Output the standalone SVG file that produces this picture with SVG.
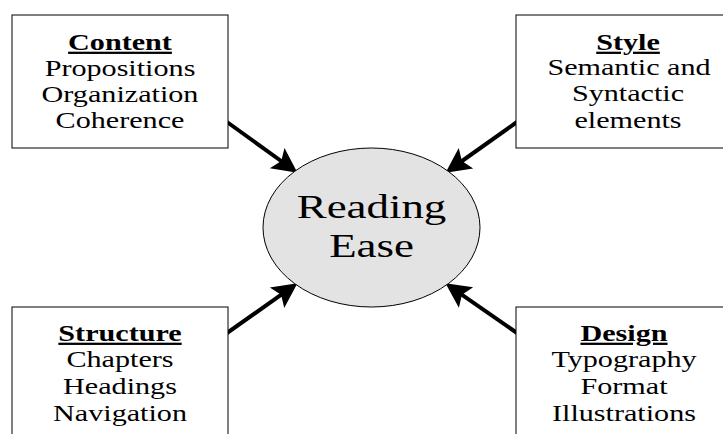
<svg xmlns="http://www.w3.org/2000/svg" width="723" height="434" viewBox="0 0 723 434">
<style>
.box{fill:#fff;stroke:#000;stroke-width:1}
.t{font-family:"Liberation Serif","Times New Roman",serif;font-size:22.5px;text-anchor:middle;fill:#000}
.h{font-weight:bold;text-decoration:underline}
.big{font-family:"Liberation Serif","Times New Roman",serif;font-size:33px;text-anchor:middle;fill:#000}
.arr{stroke:#000;stroke-width:4;fill:none;marker-end:url(#ah)}
</style>
<defs>
<marker id="ah" markerUnits="userSpaceOnUse" markerWidth="30" markerHeight="30" viewBox="-10 -12 24 24" refX="0" refY="0" orient="auto" overflow="visible">
<path d="M12,0 L-8,-10 L-4,0 L-8,10 Z" fill="#000"/>
</marker>
</defs>
<rect width="723" height="434" fill="#fff"/>
<g id="connectors">
<line class="arr" x1="227" y1="122" x2="285.3" y2="164"/>
<line class="arr" x1="517" y1="122" x2="457.8" y2="164"/>
<line class="arr" x1="227" y1="333" x2="285.2" y2="291.9"/>
<line class="arr" x1="517" y1="333" x2="457.8" y2="291.9"/>
</g>
<g id="content">
<rect class="box" x="12" y="15" width="216" height="133"/>
<text class="t h" transform="translate(120,50) scale(1.34,1)">Content</text>
<text class="t" transform="translate(120,76) scale(1.34,1)">Propositions</text>
<text class="t" transform="translate(120,102) scale(1.34,1)">Organization</text>
<text class="t" transform="translate(120,128) scale(1.34,1)">Coherence</text>
</g>
<g id="style">
<rect class="box" x="516" y="15" width="216" height="133"/>
<text class="t h" transform="translate(628,50) scale(1.34,1)">Style</text>
<text class="t" transform="translate(629,75) scale(1.34,1)">Semantic and</text>
<text class="t" transform="translate(628,101) scale(1.34,1)">Syntactic</text>
<text class="t" transform="translate(628,128) scale(1.34,1)">elements</text>
</g>
<g id="structure">
<rect class="box" x="12" y="307" width="216" height="140"/>
<text class="t h" transform="translate(120,341) scale(1.34,1)">Structure</text>
<text class="t" transform="translate(120,367) scale(1.34,1)">Chapters</text>
<text class="t" transform="translate(120,394) scale(1.34,1)">Headings</text>
<text class="t" transform="translate(120,421) scale(1.34,1)">Navigation</text>
</g>
<g id="design">
<rect class="box" x="516" y="307" width="216" height="140"/>
<text class="t h" transform="translate(624,341) scale(1.34,1)">Design</text>
<text class="t" transform="translate(624,367) scale(1.34,1)">Typography</text>
<text class="t" transform="translate(624,394) scale(1.34,1)">Format</text>
<text class="t" transform="translate(624,421) scale(1.34,1)">Illustrations</text>
</g>
<g id="reading-ease">
<ellipse cx="371.5" cy="227.5" rx="108.5" ry="79.5" fill="#e3e3e3" stroke="#000" stroke-width="1"/>
<text class="big" transform="translate(371.5,218) scale(1.36,1)">Reading</text>
<text class="big" transform="translate(371.5,257) scale(1.36,1)">Ease</text>
</g>
</svg>
